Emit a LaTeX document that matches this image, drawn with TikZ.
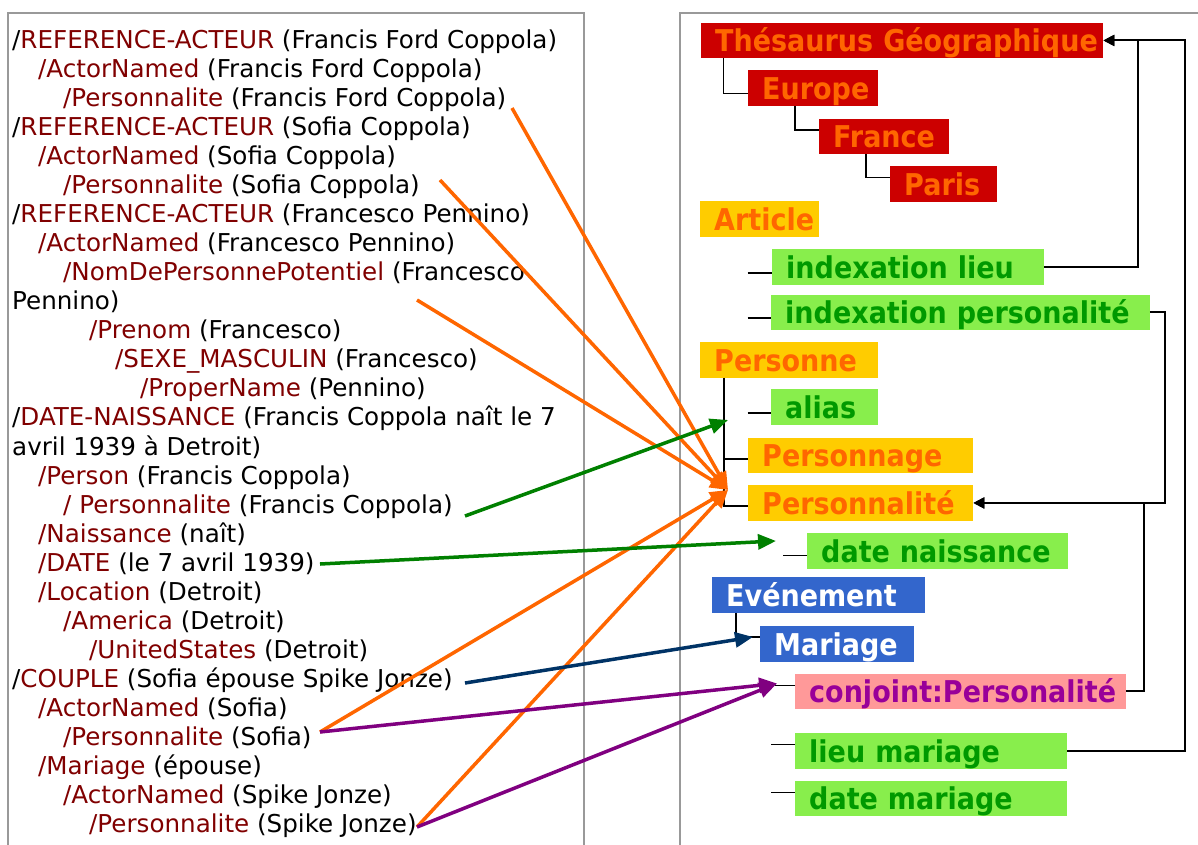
\documentclass[tikz,border=0pt]{standalone}
\usepackage{fontspec}
\setmainfont{DejaVu Sans}
\newfontfamily\boxfont[FakeStretch=0.9]{DejaVu Sans}
\usetikzlibrary{arrows.meta,calc}

\definecolor{tagred}{RGB}{128,0,0}
\definecolor{framegray}{RGB}{153,153,153}
\definecolor{geored}{RGB}{204,0,0}
\definecolor{hotorange}{RGB}{255,102,0}
\definecolor{gold}{RGB}{255,204,0}
\definecolor{leaf}{RGB}{136,238,76}
\definecolor{leaftext}{RGB}{0,153,0}
\definecolor{evblue}{RGB}{51,102,204}
\definecolor{rose}{RGB}{255,153,153}
\definecolor{plum}{RGB}{153,0,153}
\definecolor{arrgreen}{RGB}{0,128,0}
\definecolor{navy}{RGB}{0,51,102}
\definecolor{purp}{RGB}{128,0,128}

\newcommand\tg[1]{\textcolor{tagred}{#1}}

\begin{document}
\begin{tikzpicture}[x=1pt,y=-1pt,
  ln/.style={anchor=west, inner sep=0pt, font=\fontsize{24.6}{28}\selectfont,
    text height=19pt, text depth=3pt},
  box/.style={anchor=north west, inner xsep=14pt, inner ysep=0pt,
    minimum height=35.5pt, align=left, text height=24pt, text depth=1.5pt,
    font=\boxfont\fontsize{30}{34}\selectfont\bfseries},
  geo/.style={box, fill=geored, text=hotorange},
  cls/.style={box, fill=gold, text=hotorange},
  attr/.style={box, fill=leaf, text=leaftext},
  evt/.style={box, fill=evblue, text=white},
  role/.style={box, fill=rose, text=plum},
  frameline/.style={draw=framegray, line width=2pt},
  tree/.style={draw=black, line width=1.6pt},
  link/.style={draw=black, line width=2pt, -{Triangle[length=11pt,width=11pt]}},
  carrow/.style={line width=3.5pt, -{Triangle[length=18pt,width=15pt]}},
]
\useasboundingbox (0,0) rectangle (1198,844);
\clip (0,0) rectangle (1198,844);

% panel frames
\draw[frameline] (8,870) -- (8,12.5) -- (584,12.5) -- (584,870);
\draw[frameline] (680,870) -- (680,12.5) -- (1220,12.5);

% ---- annotated text (left panel) ----
\node[ln] (l1)  at (12,40)     {/\tg{REFERENCE-ACTEUR} (Francis Ford Coppola)};
\node[ln] (l2)  at (38,69.07)  {\tg{/ActorNamed} (Francis Ford Coppola)};
\node[ln] (l3)  at (63,98.14)  {\tg{/Personnalite} (Francis Ford Coppola)};
\node[ln] (l4)  at (12,127.2)  {/\tg{REFERENCE-ACTEUR} (Sofia Coppola)};
\node[ln] (l5)  at (38,156.3)  {\tg{/ActorNamed} (Sofia Coppola)};
\node[ln] (l6)  at (63,185.4)  {\tg{/Personnalite} (Sofia Coppola)};
\node[ln] (l7)  at (12,214.4)  {/\tg{REFERENCE-ACTEUR} (Francesco Pennino)};
\node[ln] (l8)  at (38,243.5)  {\tg{/ActorNamed} (Francesco Pennino)};
\node[ln] (l9)  at (63,272.6)  {\tg{/NomDePersonnePotentiel} (Francesco};
\node[ln] (l10) at (12,301.6)  {Pennino)};
\node[ln] (l11) at (89,330.7)  {\tg{/Prenom} (Francesco)};
\node[ln] (l12) at (115,359.8) {\tg{/SEXE\_MASCULIN} (Francesco)};
\node[ln] (l13) at (140,388.8) {\tg{/ProperName} (Pennino)};
\node[ln] (l14) at (12,417.9)  {/\tg{DATE-NAISSANCE} (Francis Coppola naît le 7};
\node[ln] (l15) at (12,447)    {avril 1939 à Detroit)};
\node[ln] (l16) at (38,476)    {\tg{/Person} (Francis Coppola)};
\node[ln] (l17) at (63,505.1)  {\tg{/ Personnalite} (Francis Coppola)};
\node[ln] (l18) at (38,534.2)  {\tg{/Naissance} (naît)};
\node[ln] (l19) at (38,563.3)  {\tg{/DATE} (le 7 avril 1939)};
\node[ln] (l20) at (38,592.3)  {\tg{/Location} (Detroit)};
\node[ln] (l21) at (63,621.4)  {\tg{/America} (Detroit)};
\node[ln] (l22) at (89,650.5)  {\tg{/UnitedStates} (Detroit)};
\node[ln] (l23) at (12,679.5)  {/\tg{COUPLE} (Sofia épouse Spike Jonze)};
\node[ln] (l24) at (38,708.6)  {\tg{/ActorNamed} (Sofia)};
\node[ln] (l25) at (63,737.7)  {\tg{/Personnalite} (Sofia)};
\node[ln] (l26) at (38,766.8)  {\tg{/Mariage} (épouse)};
\node[ln] (l27) at (63,795.8)  {\tg{/ActorNamed} (Spike Jonze)};
\node[ln] (l28) at (89,824.9)  {\tg{/Personnalite} (Spike Jonze)};

% ---- ontology (right panel) ----
\node[geo,  text width=374pt]   (thes)         at (701,22.5)  {\mbox{Thésaurus Géographique}};
\node[geo,  text width=102pt]   (europe)       at (748,70)    {Europe};
\node[geo,  text width=102pt]   (france)       at (819,118.5) {France};
\node[geo,  text width=79pt]    (paris)        at (890,166)   {Paris};
\node[cls,  text width=90.5pt]  (article)      at (700,201)   {Article};
\node[attr, text width=244pt]   (ixlieu)       at (772,249)   {indexation lieu};
\node[attr, text width=350.5pt] (ixpers)       at (771,294.5) {\mbox{indexation personalité}};
\node[cls,  text width=150pt]   (personne)     at (700,342)   {Personne};
\node[attr, text width=79pt]    (alias)        at (771,389)   {alias};
\node[cls,  text width=197pt]   (personnage)   at (748,437.6) {Personnage};
\node[cls,  text width=197pt]   (personnalite) at (748,485)   {Personnalité};
\node[attr, text width=233pt]   (datenaiss)    at (807,533)   {date naissance};
\node[evt,  text width=184.5pt] (evenement)    at (712,577)   {Evénement};
\node[evt,  text width=126pt]   (mariage)      at (760,626)   {Mariage};
\node[role, text width=302.5pt] (conjoint)     at (795,673.5) {\mbox{conjoint:Personalité}};
\node[attr, text width=244pt]   (lieumar)      at (795,733)   {lieu mariage};
\node[attr, text width=244pt]   (datemar)      at (795,780.5) {date mariage};

% hierarchy lines
\draw[tree] ($(thes.south west)+(22.5,0)$) |- ($(europe.west)+(0,5.6)$);
\draw[tree] ($(europe.south west)+(47,0)$) |- ($(france.west)+(0,-6.7)$);
\draw[tree] ($(france.south west)+(47,0)$) |- ($(paris.west)+(0,-6.5)$);
\draw[tree] ($(ixlieu.west)+(-24.5,6)$) -- ($(ixlieu.west)+(0,6)$);
\draw[tree] ($(ixpers.west)+(-23.5,5.8)$) -- ($(ixpers.west)+(0,5.8)$);
\draw[tree] ($(personne.south west)+(24,0)$) |- ($(personnalite.west)+(0,3)$);
\draw[tree] ($(personne.south west)+(24,0)$) |- ($(personnage.west)+(0,3.4)$);
\draw[tree] ($(alias.west)+(-23.5,6)$) -- ($(alias.west)+(0,6)$);
\draw[tree] ($(datenaiss.west)+(-24,4.5)$) -- ($(datenaiss.west)+(0,4.5)$);
\draw[tree] ($(evenement.south west)+(24,0)$) |- ($(mariage.west)+(0,-7)$);
\draw[tree] ($(conjoint.west)+(-20,-6)$) -- ($(conjoint.west)+(0,-6)$);
\draw[tree] ($(lieumar.west)+(-24,-6.3)$) -- ($(lieumar.west)+(0,-6.3)$);
\draw[tree] ($(datemar.west)+(-24,-6)$) -- ($(datemar.west)+(0,-6)$);

% reference links
\draw[link] (ixlieu.east) -- ++(94,0) |- (thes.east);
\draw[link] (lieumar.east) -- ++(118,0) |- (thes.east);
\draw[link] (ixpers.east) -- ++(15.5,0) |- (personnalite.east);
\draw[link] (conjoint.east) -- ++(18.5,0) |- (personnalite.east);

% annotation targets
\coordinate (tipP) at ($(personnalite.west)+(-20,-13)$);
\coordinate (tipA) at ($(alias.west)+(-43,13)$);
\coordinate (tipD) at ($(datenaiss.west)+(-31,-10)$);
\coordinate (tipM) at ($(mariage.west)+(-7,-7)$);
\coordinate (tipC) at ($(conjoint.west)+(-18,-8)$);

% annotation arrows
\draw[carrow, hotorange] ($(l3.west)+(449,9.9)$)   -- (tipP);
\draw[carrow, hotorange] ($(l6.west)+(377,-5.4)$)  -- (tipP);
\draw[carrow, hotorange] ($(l10.west)+(405,-1.6)$) -- (tipP);
\draw[carrow, hotorange] ($(l25.west)+(257,-5.7)$) -- (tipP);
\draw[carrow, hotorange] ($(l28.west)+(328,2.1)$)  -- (tipP);
\draw[carrow, arrgreen]  ($(l17.west)+(402,10.9)$) -- (tipA);
\draw[carrow, arrgreen]  ($(l19.west)+(282,0.7)$)  -- (tipD);
\draw[carrow, navy]      ($(l23.west)+(453,3.5)$)  -- (tipM);
\draw[carrow, purp]      ($(l25.west)+(257,-5.7)$) -- (tipC);
\draw[carrow, purp]      ($(l28.west)+(328,2.1)$)  -- (tipC);
\end{tikzpicture}
\end{document}
